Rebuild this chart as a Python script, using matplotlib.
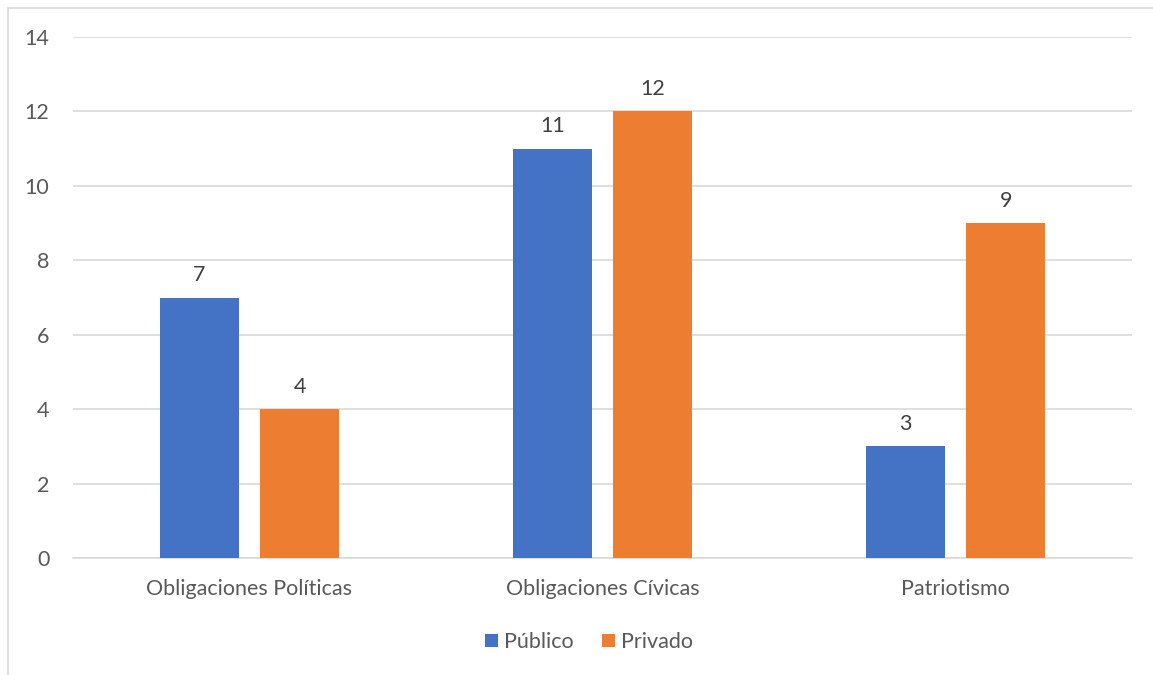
import matplotlib
matplotlib.use('Agg')
import matplotlib.pyplot as plt
from matplotlib.patches import Rectangle
import numpy as np

categories = ['Obligaciones Políticas', 'Obligaciones Cívicas', 'Patriotismo']
publico = [7, 11, 3]
privado = [4, 12, 9]
series_names = ['Público', 'Privado']

blue = '#4472C4'
orange = '#ED7D31'
text_col = '#595959'

plt.rcParams['font.family'] = ['Lato', 'DejaVu Sans']
fs = 15.5

W, H = 1153, 675
fig = plt.figure(figsize=(W / 100, H / 100), dpi=100)
# chart border (top and left edges visible)
fig.patches.append(Rectangle((8 / W, -0.1), 1.2, 1 - 8 / H + 0.1, transform=fig.transFigure,
                             fill=False, edgecolor='#D9D9D9', linewidth=1.2))

ax = fig.add_axes([73 / W, 1 - 558 / H, (1132 - 73) / W, (558 - 37) / H])
x = np.arange(len(categories))
bw = 0.224
off = 0.142
b1 = ax.bar(x - off, publico, bw, color=blue, label=series_names[0], zorder=3)
b2 = ax.bar(x + off, privado, bw, color=orange, label=series_names[1], zorder=3)
for bars in (b1, b2):
    ax.bar_label(bars, padding=9, fontsize=fs, color='#404040')

ax.set_xlim(-0.5, 2.5)
ax.set_ylim(0, 14)
ax.set_yticks(range(0, 15, 2))
ax.set_xticks(x)
ax.set_xticklabels(categories)
ax.grid(axis='y', color='#D9D9D9', linewidth=1.2, zorder=0)
ax.tick_params(axis='both', length=0, labelsize=fs, colors=text_col)
ax.tick_params(axis='x', pad=15)
ax.tick_params(axis='y', pad=17)
for s in ['top', 'right', 'left']:
    ax.spines[s].set_visible(False)
ax.spines['bottom'].set_color('#D9D9D9')
ax.spines['bottom'].set_linewidth(1.2)

fig.legend(loc='center', bbox_to_anchor=(589 / W, 1 - 642 / H), ncol=2, frameon=False,
           fontsize=fs, labelcolor=text_col, handlelength=0.6, handleheight=0.6,
           handletextpad=0.3, columnspacing=1.3)

fig.savefig('out.png', dpi=100)
